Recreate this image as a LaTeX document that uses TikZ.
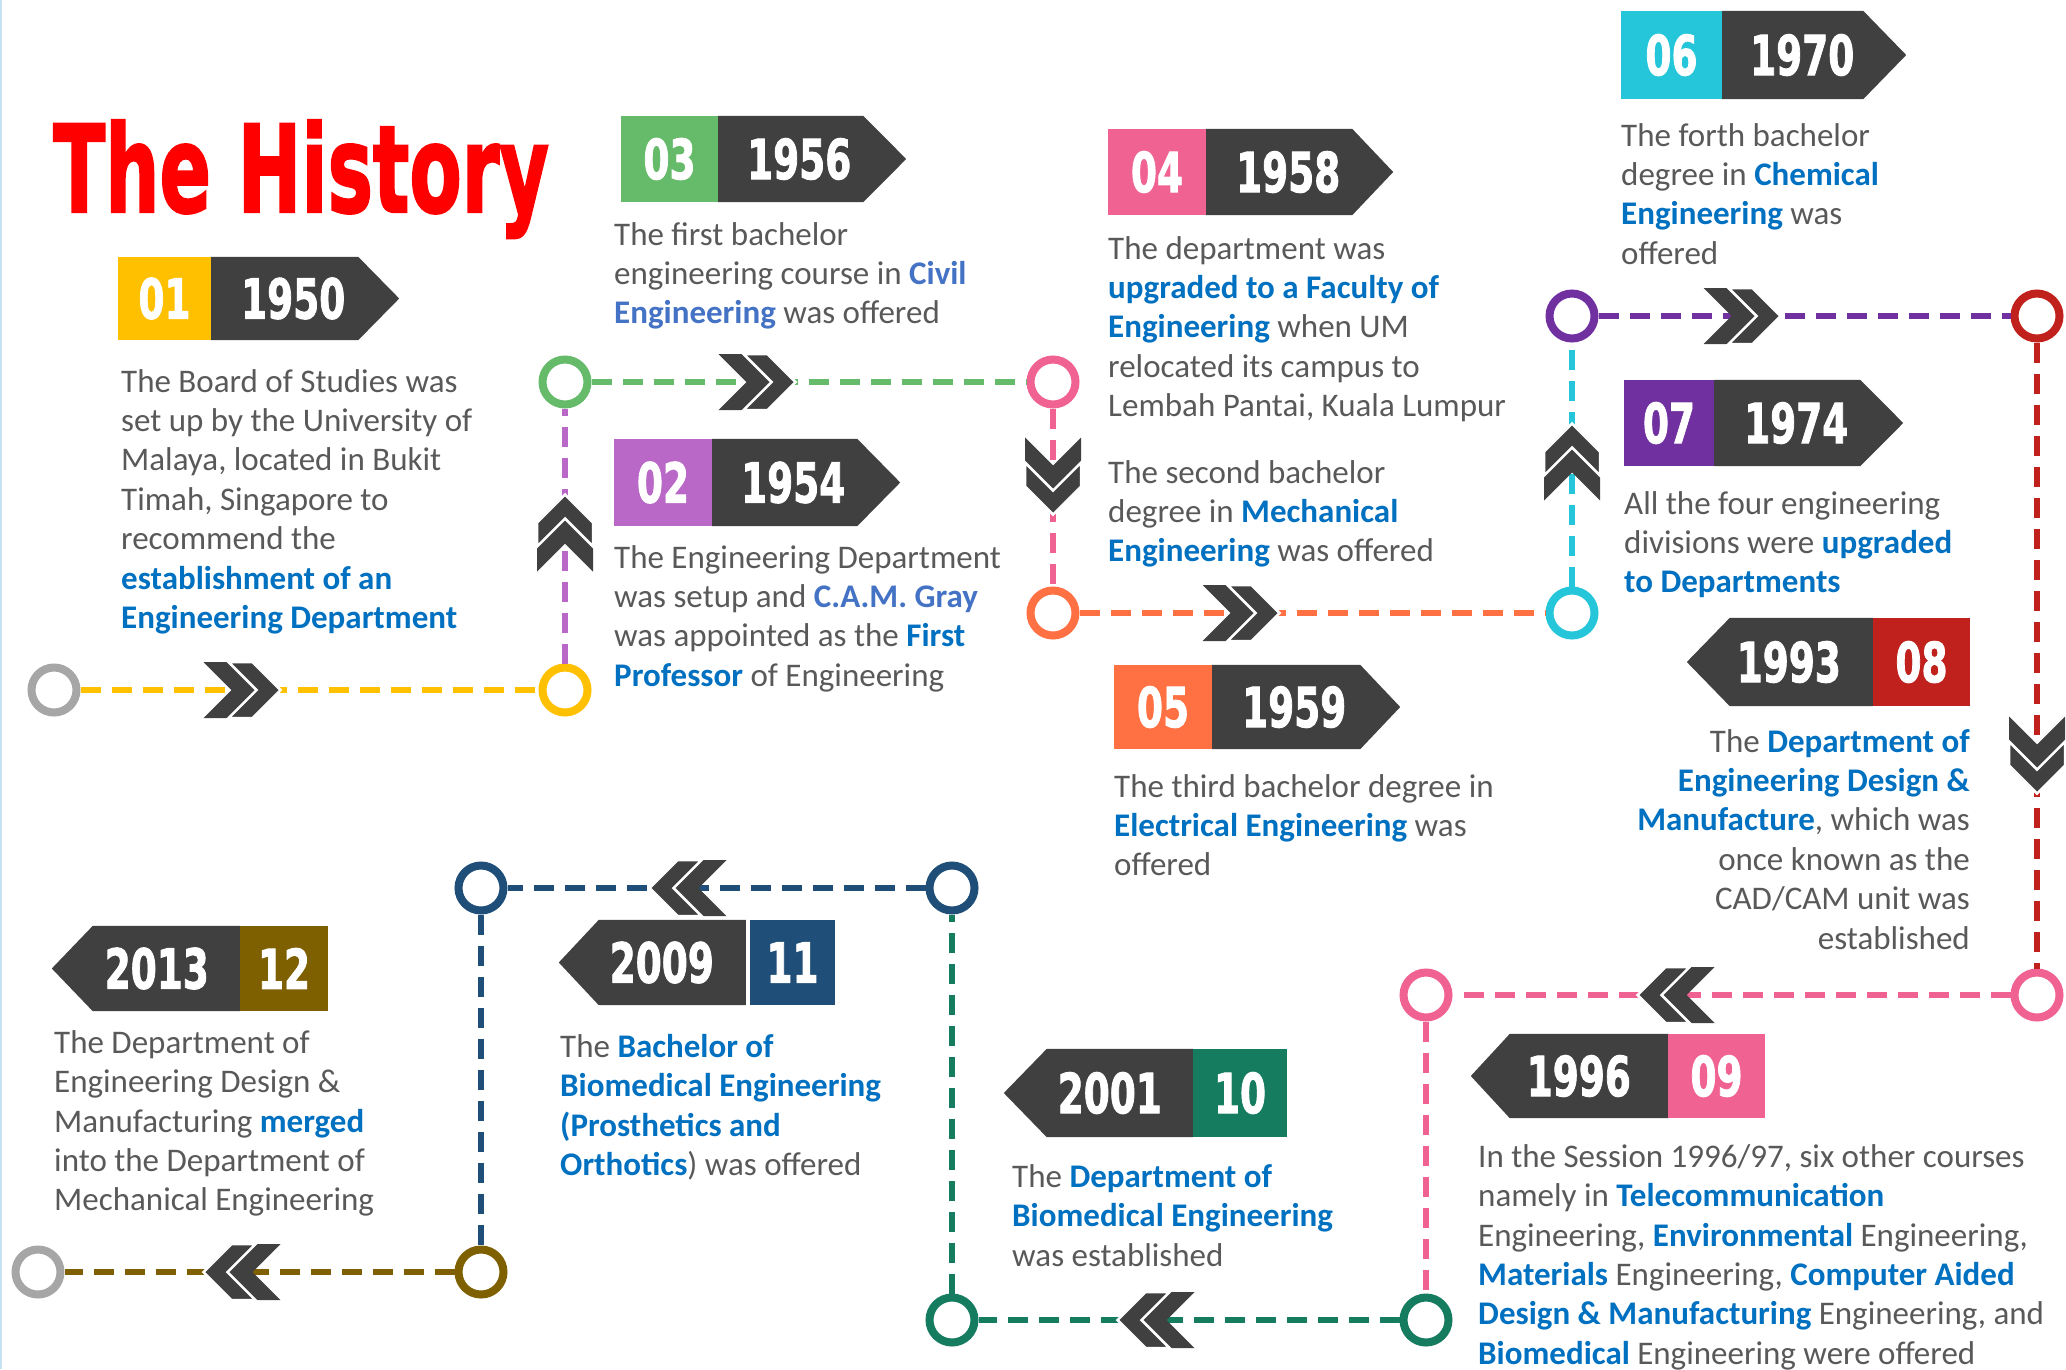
\documentclass[tikz,border=0pt]{standalone}
\usepackage{fontspec}
\setmainfont{Carlito}
\newfontfamily\digitfont[FakeBold=2]{DejaVu Sans Bold}
\usetikzlibrary{calc}

\definecolor{c-title}{RGB}{255,0,0}
\definecolor{c-dark}{RGB}{64,64,64}
\definecolor{c-gray}{RGB}{166,166,166}
\definecolor{txt-gray}{RGB}{89,89,89}
\definecolor{kw-blue}{RGB}{0,112,192}
\definecolor{kw-light}{RGB}{68,114,196}
\definecolor{edge-blue}{RGB}{200,225,242}
\definecolor{c01}{RGB}{255,192,0}
\definecolor{c02}{RGB}{186,104,200}
\definecolor{c03}{RGB}{102,187,106}
\definecolor{c04}{RGB}{240,98,146}
\definecolor{c05}{RGB}{255,112,67}
\definecolor{c06}{RGB}{38,198,218}
\definecolor{c07}{RGB}{112,48,160}
\definecolor{c08}{RGB}{193,33,28}
\definecolor{c09}{RGB}{240,98,146}
\definecolor{c10}{RGB}{22,124,96}
\definecolor{c11}{RGB}{31,78,121}
\definecolor{c12}{RGB}{127,96,0}

\newcommand{\digits}[1]{\scalebox{0.68}[1]{\digitfont\fontsize{55}{55}\selectfont #1}}
\newcommand{\kw}[1]{\textcolor{kw-blue}{\bfseries #1}}
\newcommand{\kwl}[1]{\textcolor{kw-light}{\bfseries #1}}

\tikzstyle{num-box} = [rectangle, minimum width=96pt, minimum height=86pt, inner sep=0pt, text=white]
\tikzstyle{year-txt} = [inner sep=0pt, text=white]
\tikzstyle{dark-part} = [fill=c-dark]
\tikzstyle{desc} = [anchor=north west, inner sep=0pt, align=left, text=txt-gray, font=\fontsize{33}{39.4}\selectfont]
\tikzstyle{station} = [circle, draw, line width=8pt, fill=white, minimum size=45pt, inner sep=0pt]
\tikzstyle{track} = [line width=6pt, dash pattern=on 20pt off 11pt]
\tikzset{
    chevs/.pic={
        \fill [c-dark] (-38.5,-28) -- (-14.5,-28) -- (13.5,0) -- (-14.5,28) -- (-38.5,28) -- (-10.5,0) -- cycle;
        \filldraw [fill=c-dark, draw=white, line width=2.5pt] (-13.5,-28) -- (10.5,-28) -- (38.5,0) -- (10.5,28) -- (-13.5,28) -- (14.5,0) -- cycle;
    }
}

\begin{document}
\begin{tikzpicture}[x=1pt, y=-1pt]

\fill [white] (0,0) rectangle (2066,1369);
\useasboundingbox (0,0) rectangle (2066,1369);
\draw [line width=2pt, edge-blue] (1,0) -- (1,1369);

% Title
\node (title) [anchor=base west, inner sep=0pt, text=c-title] at (53,212) {\scalebox{0.63}[1]{\digitfont\fontsize{121}{121}\selectfont The History}};

% Stations
\node (st-00) [station, draw=c-gray] at (54,690) {};
\node (st-01) [station, draw=c01] at (565,690) {};
\node (st-02) [station, draw=c03] at (565,382) {};
\node (st-03) [station, draw=c04] at (1053,382) {};
\node (st-04) [station, draw=c05] at (1053,613) {};
\node (st-05) [station, draw=c06] at (1572,613) {};
\node (st-06) [station, draw=c07] at (1572,316) {};
\node (st-07) [station, draw=c08] at (2037,316) {};
\node (st-08) [station, draw=c09] at (2037,995) {};
\node (st-09) [station, draw=c09] at (1426,995) {};
\node (st-10) [station, draw=c10] at (1426,1320) {};
\node (st-11) [station, draw=c10] at (952,1320) {};
\node (st-12) [station, draw=c11] at (952,888) {};
\node (st-13) [station, draw=c11] at (481,888) {};
\node (st-14) [station, draw=c12] at (481,1272) {};
\node (st-15) [station, draw=c-gray] at (38,1272) {};

% Tracks
\draw [track, c01] (st-00) -- (st-01);
\draw [track, c02] (st-01) -- (st-02);
\draw [track, c03] (st-02) -- (st-03);
\draw [track, c04] (st-03) -- (st-04);
\draw [track, c05] (st-04) -- (st-05);
\draw [track, c06] (st-05) -- (st-06);
\draw [track, c07] (st-06) -- (st-07);
\draw [track, c08] (st-07) -- (st-08);
\draw [track, c09] (st-08) -- (st-09);
\draw [track, c09] (st-09) -- (st-10);
\draw [track, c10] (st-10) -- (st-11);
\draw [track, c10] (st-11) -- (st-12);
\draw [track, c11] (st-12) -- (st-13);
\draw [track, c11] (st-13) -- (st-14);
\draw [track, c12] (st-14) -- (st-15);

% Direction marks
\pic at (242,690) {chevs};
\pic [rotate=90] at (565,533) {chevs};
\pic at (757,382) {chevs};
\pic [rotate=-90] at (1053,476) {chevs};
\pic at (1241,613) {chevs};
\pic [rotate=90] at (1572,462) {chevs};
\pic at (1742,316) {chevs};
\pic [rotate=-90] at (2037,755) {chevs};
\pic [rotate=180] at (1676,995) {chevs};
\pic [rotate=180] at (1156,1320) {chevs};
\pic [rotate=180] at (688,888) {chevs};
\pic [rotate=180] at (242,1272) {chevs};

% 01 1950
\node (b01) [num-box, fill=c01, minimum width=93pt, minimum height=83pt] at (164.5,298.5) {\digits{01}};
\fill [dark-part] (b01.north east) -- ++(147,0) -- ($(b01.east)+(188,0)$) -- ($(b01.south east)+(147,0)$) -- (b01.south east) -- cycle;
\node (y01) [year-txt] at ($(b01.east)+(82,0)$) {\digits{1950}};
\node (t01) [desc] at (121,364.4) {\strut The Board of Studies was\\
set up by the University of\\
Malaya, located in Bukit\\
Timah, Singapore to\\
recommend the\\
\kw{establishment of an}\\
\kw{Engineering Department}};

% 02 1954
\node (b02) [num-box, fill=c02, minimum width=98pt, minimum height=87pt] at (663,482.5) {\digits{02}};
\fill [dark-part] (b02.north east) -- ++(145,0) -- ($(b02.east)+(188,0)$) -- ($(b02.south east)+(145,0)$) -- (b02.south east) -- cycle;
\node (y02) [year-txt] at ($(b02.east)+(81,0)$) {\digits{1954}};
\node (t02) [desc] at (614,540.4) {\strut The Engineering Department\\
was setup and \kwl{C.A.M. Gray}\\
was appointed as the \kw{First}\\
\kw{Professor} of Engineering};

% 03 1956
\node (b03) [num-box, fill=c03, minimum width=97pt] at (669.5,159) {\digits{03}};
\fill [dark-part] (b03.north east) -- ++(145,0) -- ($(b03.east)+(188,0)$) -- ($(b03.south east)+(145,0)$) -- (b03.south east) -- cycle;
\node (y03) [year-txt] at ($(b03.east)+(81,0)$) {\digits{1956}};
\node (t03) [desc] at (614,217.4) {\strut The first bachelor\\
engineering course in \kwl{Civil}\\
\kwl{Engineering} was offered};

% 04 1958
\node (b04) [num-box, fill=c04, minimum width=98pt] at (1157,172) {\digits{04}};
\fill [dark-part] (b04.north east) -- ++(146,0) -- ($(b04.east)+(187,0)$) -- ($(b04.south east)+(146,0)$) -- (b04.south east) -- cycle;
\node (y04) [year-txt] at ($(b04.east)+(82,0)$) {\digits{1958}};
\node (t04) [desc] at (1108,231.4) {\strut The department was\\
\kw{upgraded to a Faculty of}\\
\kw{Engineering} when UM\\
relocated its campus to\\
Lembah Pantai, Kuala Lumpur\\[27pt]
The second bachelor\\
degree in \kw{Mechanical}\\
\kw{Engineering} was offered};

% 05 1959
\node (b05) [num-box, fill=c05, minimum width=98pt, minimum height=84pt] at (1163,707) {\digits{05}};
\fill [dark-part] (b05.north east) -- ++(148,0) -- ($(b05.east)+(188,0)$) -- ($(b05.south east)+(148,0)$) -- (b05.south east) -- cycle;
\node (y05) [year-txt] at ($(b05.east)+(82,0)$) {\digits{1959}};
\node (t05) [desc] at (1114,769.4) {\strut The third bachelor degree in\\
\kw{Electrical Engineering} was\\
offered};

% 06 1970
\node (b06) [num-box, fill=c06, minimum width=101pt, minimum height=88pt] at (1671.5,55) {\digits{06}};
\fill [dark-part] (b06.north east) -- ++(141,0) -- ($(b06.east)+(184,0)$) -- ($(b06.south east)+(141,0)$) -- (b06.south east) -- cycle;
\node (y06) [year-txt] at ($(b06.east)+(80,0)$) {\digits{1970}};
\node (t06) [desc] at (1621,118.4) {\strut The forth bachelor\\
degree in \kw{Chemical}\\
\kw{Engineering} was\\
offered};

% 07 1974
\node (b07) [num-box, fill=c07, minimum width=90pt] at (1669,423) {\digits{07}};
\fill [dark-part] (b07.north east) -- ++(146,0) -- ($(b07.east)+(189,0)$) -- ($(b07.south east)+(146,0)$) -- (b07.south east) -- cycle;
\node (y07) [year-txt] at ($(b07.east)+(82,0)$) {\digits{1974}};
\node (t07) [desc] at (1624,486.4) {\strut All the four engineering\\
divisions were \kw{upgraded}\\
\kw{to Departments}};

% 08 1993
\node (b08) [num-box, fill=c08, minimum width=97pt, minimum height=88pt] at (1921.5,662) {\digits{08}};
\fill [dark-part] (b08.north west) -- ++(-143,0) -- ($(b08.west)+(-186,0)$) -- ($(b08.south west)+(-143,0)$) -- (b08.south west) -- cycle;
\node (y08) [year-txt] at ($(b08.west)+(-84,0)$) {\digits{1993}};
\node (t08) [desc, anchor=north east, align=right] at (1970,724.4) {\strut The \kw{Department of}\\
\kw{Engineering Design \&}\\
\kw{Manufacture}, which was\\
once known as the\\
CAD/CAM unit was\\
established};

% 09 1996
\node (b09) [num-box, fill=c09, minimum width=97pt, minimum height=84pt] at (1716.5,1076) {\digits{09}};
\fill [dark-part] (b09.north west) -- ++(-158,0) -- ($(b09.west)+(-197,0)$) -- ($(b09.south west)+(-158,0)$) -- (b09.south west) -- cycle;
\node (y09) [year-txt] at ($(b09.west)+(-89,0)$) {\digits{1996}};
\node (t09) [desc] at (1478,1139.4) {\strut In the Session 1996/97, six other courses\\
namely in \kw{Telecommunication}\\
Engineering, \kw{Environmental} Engineering,\\
\kw{Materials} Engineering, \kw{Computer Aided}\\
\kw{Design \& Manufacturing} Engineering, and\\
\kw{Biomedical} Engineering were offered};

% 10 2001
\node (b10) [num-box, fill=c10, minimum width=94pt, minimum height=88pt] at (1240,1093) {\digits{10}};
\fill [dark-part] (b10.north west) -- ++(-146,0) -- ($(b10.west)+(-189,0)$) -- ($(b10.south west)+(-146,0)$) -- (b10.south west) -- cycle;
\node (y10) [year-txt] at ($(b10.west)+(-83,0)$) {\digits{2001}};
\node (t10) [desc] at (1012,1159.4) {\strut The \kw{Department of}\\
\kw{Biomedical Engineering}\\
was established};

% 11 2009
\node (b11) [num-box, fill=c11, minimum width=85pt, minimum height=85pt] at (792.5,962.5) {\digits{11}};
\fill [dark-part] ($(b11.north west)+(-4,0)$) -- ++(-147,0) -- ($(b11.west)+(-191,0)$) -- ($(b11.south west)+(-151,0)$) -- ($(b11.south west)+(-4,0)$) -- cycle;
\node (y11) [year-txt] at ($(b11.west)+(-88,0)$) {\digits{2009}};
\node (t11) [desc] at (560,1029.4) {\strut The \kw{Bachelor of}\\
\kw{Biomedical Engineering}\\
\kw{(Prosthetics and}\\
\kw{Orthotics}) was offered};

% 12 2013
\node (b12) [num-box, fill=c12, minimum width=88pt, minimum height=85pt] at (284,968.5) {\digits{12}};
\fill [dark-part] (b12.north west) -- ++(-147,0) -- ($(b12.west)+(-188,0)$) -- ($(b12.south west)+(-147,0)$) -- (b12.south west) -- cycle;
\node (y12) [year-txt] at ($(b12.west)+(-83,0)$) {\digits{2013}};
\node (t12) [desc] at (54,1025.4) {\strut The Department of\\
Engineering Design \&\\
Manufacturing \kw{merged}\\
into the Department of\\
Mechanical Engineering};

\end{tikzpicture}
\end{document}
